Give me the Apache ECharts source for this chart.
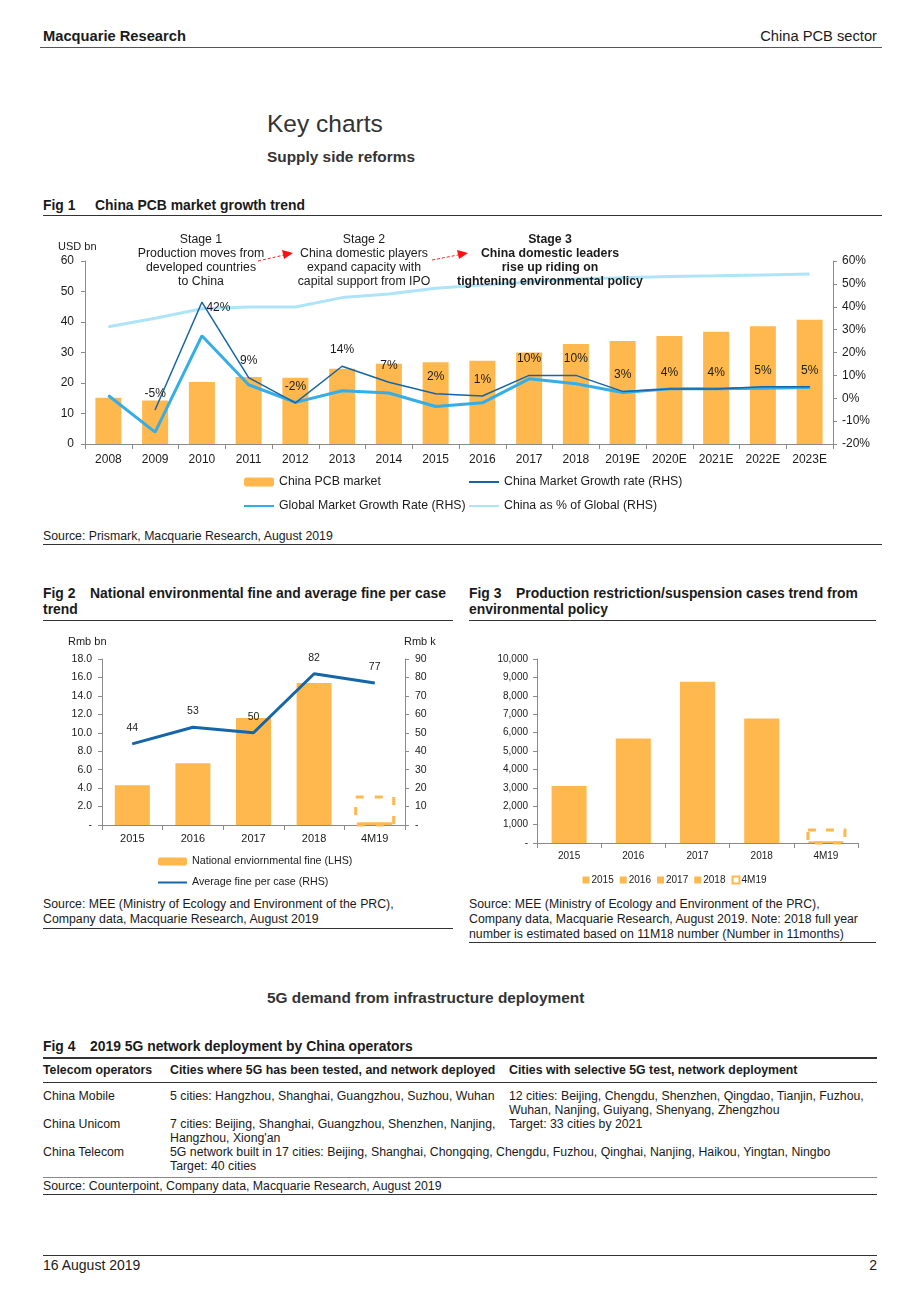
<!DOCTYPE html>
<html><head><meta charset="utf-8">
<script src="https://cdn.jsdelivr.net/npm/echarts@6/dist/echarts.min.js"></script>
<style>
html,body{margin:0;padding:0;background:#fff;}
body{width:920px;height:1302px;position:relative;font-family:"Liberation Sans",Arial,sans-serif;color:#1a1a1a;}
.t{position:absolute;white-space:nowrap;}
.b{font-weight:bold;}
.hl{position:absolute;background:#333;height:1px;}
.ch{position:absolute;}
.fig{display:inline-block;width:47px;}
.src{font-size:12.3px;line-height:15px;}
.tb{font-size:12.3px;line-height:14px;}
</style></head><body>
<div class="t b" style="left:43px;top:28px;font-size:14.7px;line-height:17px;">Macquarie Research</div>
<div class="t" style="right:43px;top:28px;font-size:14.7px;line-height:17px;">China PCB sector</div>
<div class="hl" style="left:40px;width:842px;top:47px;background:#555;"></div>

<div class="t" style="left:267px;top:109px;font-size:24.5px;line-height:29px;color:#333;">Key charts</div>
<div class="t b" style="left:267px;top:148px;font-size:15.4px;line-height:18px;color:#333;">Supply side reforms</div>

<div class="t b" style="left:43px;top:197px;font-size:13.9px;line-height:16px;"><span class="fig" style="width:52px;">Fig 1</span>China PCB market growth trend</div>
<div class="hl" style="left:43px;width:839px;top:215px;"></div>
<div id="c1" class="ch" style="left:40px;top:225px;width:850px;height:295px;"></div>
<div class="t src" style="left:43px;top:529px;">Source: Prismark, Macquarie Research, August 2019</div>
<div class="hl" style="left:43px;width:839px;top:544px;"></div>

<div class="t b" style="left:43px;top:585px;font-size:13.9px;line-height:16px;"><span class="fig">Fig 2</span>National environmental fine and average fine per case<br>trend</div>
<div class="hl" style="left:43px;width:410px;top:620px;"></div>
<div id="c2" class="ch" style="left:43px;top:630px;width:410px;height:265px;"></div>
<div class="t src" style="left:43px;top:897px;">Source: MEE (Ministry of Ecology and Environment of the PRC),<br>Company data, Macquarie Research, August 2019</div>
<div class="hl" style="left:43px;width:410px;top:928px;"></div>

<div class="t b" style="left:469px;top:585px;font-size:13.9px;line-height:16px;"><span class="fig">Fig 3</span>Production restriction/suspension cases trend from<br>environmental policy</div>
<div class="hl" style="left:469px;width:407px;top:620px;"></div>
<div id="c3" class="ch" style="left:469px;top:630px;width:411px;height:265px;"></div>
<div class="t src" style="left:469px;top:897px;">Source: MEE (Ministry of Ecology and Environment of the PRC),<br>Company data, Macquarie Research, August 2019. Note: 2018 full year<br>number is estimated based on 11M18 number (Number in 11months)</div>
<div class="hl" style="left:469px;width:407px;top:942px;"></div>

<div class="t b" style="left:267px;top:989px;font-size:15.4px;line-height:18px;color:#333;">5G demand from infrastructure deployment</div>

<div class="t b" style="left:43px;top:1038px;font-size:13.9px;line-height:16px;"><span class="fig">Fig 4</span>2019 5G network deployment by China operators</div>
<div class="hl" style="left:43px;width:834px;top:1057px;height:1.5px;"></div>
<div class="t b tb" style="left:43px;top:1063px;">Telecom operators</div>
<div class="t b tb" style="left:170px;top:1063px;">Cities where 5G has been tested, and network deployed</div>
<div class="t b tb" style="left:509px;top:1063px;">Cities with selective 5G test, network deployment</div>
<div class="hl" style="left:43px;width:834px;top:1082px;"></div>
<div class="t tb" style="left:43px;top:1089px;">China Mobile</div>
<div class="t tb" style="left:170px;top:1089px;">5 cities: Hangzhou, Shanghai, Guangzhou, Suzhou, Wuhan</div>
<div class="t tb" style="left:509px;top:1089px;">12 cities: Beijing, Chengdu, Shenzhen, Qingdao, Tianjin, Fuzhou,<br>Wuhan, Nanjing, Guiyang, Shenyang, Zhengzhou</div>
<div class="t tb" style="left:43px;top:1117px;">China Unicom</div>
<div class="t tb" style="left:170px;top:1117px;">7 cities: Beijing, Shanghai, Guangzhou, Shenzhen, Nanjing,<br>Hangzhou, Xiong'an</div>
<div class="t tb" style="left:509px;top:1117px;">Target: 33 cities by 2021</div>
<div class="t tb" style="left:43px;top:1145px;">China Telecom</div>
<div class="t tb" style="left:170px;top:1145px;">5G network built in 17 cities: Beijing, Shanghai, Chongqing, Chengdu, Fuzhou, Qinghai, Nanjing, Haikou, Yingtan, Ningbo<br>Target: 40 cities</div>
<div class="hl" style="left:43px;width:834px;top:1177px;background:#888;"></div>
<div class="t tb" style="left:43px;top:1179px;">Source: Counterpoint, Company data, Macquarie Research, August 2019</div>
<div class="hl" style="left:43px;width:834px;top:1194px;"></div>

<div class="hl" style="left:43px;width:834px;top:1255px;"></div>
<div class="t" style="left:43px;top:1257px;font-size:14px;line-height:16px;">16 August 2019</div>
<div class="t" style="right:43px;top:1257px;font-size:14px;line-height:16px;">2</div>

<script>
// ---------------- Data ----------------
var fig1Years = ['2008','2009','2010','2011','2012','2013','2014','2015','2016','2017','2018','2019E','2020E','2021E','2022E','2023E'];
var fig1ChinaPCB = [15.2, 14.3, 20.3, 22.0, 21.7, 24.7, 26.3, 26.8, 27.3, 30.0, 32.8, 33.8, 35.4, 36.8, 38.6, 40.7];
var fig1ChinaGrowth = [null, -5, 42, 9, -2, 14, 7, 2, 1, 10, 10, 3, 4, 4, 5, 5];
var fig1GlobalGrowth = [1.2, -14.8, 27.3, 5.9, -1.8, 3.3, 2.3, -3.6, -2.0, 8.5, 6.3, 2.5, 4.1, 4.1, 4.4, 4.7];
var fig1ChinaShare = [31.3, 35.0, 39.1, 39.9, 39.9, 44.0, 45.6, 48.1, 49.5, 50.8, 52.1, 52.7, 53.2, 53.5, 53.9, 54.3];

var fig2Cats = ['2015','2016','2017','2018','4M19'];
var fig2Fine = [4.3, 6.7, 11.6, 15.4, 0.3];
var fig2AvgFine = [44, 53, 50, 82, 77];

var fig3Cats = ['2015','2016','2017','2018','4M19'];
var fig3Cases = [3100, 5680, 8770, 6760, 90];

var FONT = '"Liberation Sans", Arial, sans-serif';
var ORANGE = '#FFB84D';
var DARKBLUE = '#1565A8';
var MIDBLUE = '#35ADE6';
var LIGHTBLUE = '#AEE4F8';
var AXIS = '#8a8a8a';
var TXT = '#1a1a1a';

function valAxis(fs, margin, fmt, extra){
  return Object.assign({
    type:'value',
    axisLine:{show:true,lineStyle:{color:AXIS,width:1}},
    axisTick:{show:true,inside:false,length:4,lineStyle:{color:AXIS}},
    splitLine:{show:false},
    axisLabel:{fontSize:fs,color:TXT,fontFamily:FONT,margin:margin,formatter:fmt}
  }, extra);
}
function catAxis(data, fs, margin){
  return {type:'category',data:data,axisLine:{lineStyle:{color:AXIS}},
    axisTick:{show:true,length:5,lineStyle:{color:AXIS}},
    axisLabel:{fontSize:fs,color:TXT,fontFamily:FONT,margin:margin,interval:0}};
}

// ---------------- Fig 1 ----------------
(function(){
  var ch = echarts.init(document.getElementById('c1'), null, {renderer:'canvas'});
  var maxIdx = 0;
  fig1ChinaGrowth.forEach(function(v,i){ if(v!==null && v>fig1ChinaGrowth[maxIdx]) maxIdx=i; });
  var growthData = fig1ChinaGrowth.map(function(v,i){
    if(i===maxIdx) return {value:v,label:{position:'right',distance:4,offset:[0,6]}};
    return v;
  });
  var annoStyle = {fontSize:12.3,fontFamily:FONT,fill:TXT,align:'center',lineHeight:14};
  var legText = {fontSize:12.3,color:TXT,fontFamily:FONT};
  ch.setOption({
    animation:false,
    textStyle:{fontFamily:FONT},
    grid:{left:45,right:57,top:36,bottom:76},
    xAxis:catAxis(fig1Years, 12, 10),
    yAxis:[
      valAxis(12, 11, null, {min:0,max:60,interval:10}),
      valAxis(12, 9, function(v){return v+'%';}, {min:-20,max:60,interval:10,position:'right'})
    ],
    legend:[
      {orient:'vertical',left:203,top:251,padding:0,itemGap:12,itemWidth:30,itemHeight:9,textStyle:legText,
       data:['China PCB market',{name:'Global Market Growth Rate (RHS)',itemStyle:{opacity:0}}]},
      {orient:'vertical',left:428,top:251,padding:0,itemGap:12,itemWidth:30,itemHeight:9,textStyle:legText,
       data:[{name:'China Market Growth rate (RHS)',itemStyle:{opacity:0}},{name:'China as % of Global (RHS)',itemStyle:{opacity:0}}]}
    ],
    series:[
      {name:'China PCB market',type:'bar',data:fig1ChinaPCB,barWidth:26,itemStyle:{color:ORANGE},z:1},
      {name:'China as % of Global (RHS)',type:'line',yAxisIndex:1,data:fig1ChinaShare,symbol:'circle',symbolSize:1,
       itemStyle:{color:LIGHTBLUE},lineStyle:{color:LIGHTBLUE,width:3},z:2},
      {name:'Global Market Growth Rate (RHS)',type:'line',yAxisIndex:1,data:fig1GlobalGrowth,symbol:'circle',symbolSize:1,
       itemStyle:{color:MIDBLUE},lineStyle:{color:MIDBLUE,width:3},z:3},
      {name:'China Market Growth rate (RHS)',type:'line',yAxisIndex:1,data:growthData,symbol:'circle',symbolSize:1,
       itemStyle:{color:DARKBLUE},lineStyle:{color:DARKBLUE,width:1.5},z:4,
       label:{show:true,position:'top',distance:10,fontSize:12,color:TXT,fontFamily:FONT,formatter:function(p){return p.value+'%';}}}
    ],
    graphic:[
      {type:'text',left:18,top:16,style:{text:'USD bn',fontSize:11,fontFamily:FONT,fill:TXT},z:10},
      {type:'text',x:161,y:8,style:Object.assign({text:'Stage 1\nProduction moves from\ndeveloped countries\nto China'},annoStyle),z:10},
      {type:'text',x:324,y:8,style:Object.assign({text:'Stage 2\nChina domestic players\nexpand capacity with\ncapital support from IPO'},annoStyle),z:10},
      {type:'text',x:510,y:8,style:Object.assign({text:'Stage 3\nChina domestic leaders\nrise up riding on\ntightening environmental policy',fontWeight:'bold'},annoStyle),z:10},
      {type:'line',shape:{x1:218,y1:36,x2:244,y2:30},style:{stroke:'#ff2020',lineWidth:1,lineDash:[3,2]},z:10},
      {type:'polygon',shape:{points:[[253,28],[242,25],[244,34]]},style:{fill:'#ff1010'},z:10},
      {type:'line',shape:{x1:392,y1:35,x2:418,y2:30},style:{stroke:'#ff2020',lineWidth:1,lineDash:[3,2]},z:10},
      {type:'polygon',shape:{points:[[428,28],[417,25],[419,34]]},style:{fill:'#ff1010'},z:10}
    ]
  });
})();

// ---------------- Fig 2 ----------------
(function(){
  var ch = echarts.init(document.getElementById('c2'), null, {renderer:'canvas'});
  ch.setOption({
    animation:false,
    textStyle:{fontFamily:FONT},
    grid:{left:59,right:48,top:29,bottom:70},
    xAxis:catAxis(fig2Cats, 11, 8),
    yAxis:[
      valAxis(10.5, 10, function(v){return v===0?'-':v.toFixed(1);}, {min:0,max:18,interval:2}),
      valAxis(10.5, 10, function(v){return v===0?'-':String(v);}, {min:0,max:90,interval:10,position:'right'})
    ],
    legend:{orient:'vertical',left:114,top:226,padding:0,itemGap:10,itemWidth:29,itemHeight:8,textStyle:{fontSize:10.7,color:TXT,fontFamily:FONT},
      data:['National enviornmental fine (LHS)',{name:'Average fine per case (RHS)',itemStyle:{opacity:0}}]},
    series:[
      {name:'National enviornmental fine (LHS)',type:'bar',data:fig2Fine,barWidth:35,itemStyle:{color:ORANGE}},
      {name:'Average fine per case (RHS)',type:'line',yAxisIndex:1,data:fig2AvgFine,symbol:'circle',symbolSize:1,
       itemStyle:{color:DARKBLUE},lineStyle:{color:DARKBLUE,width:3},
       label:{show:true,position:'top',distance:10,fontSize:10.5,color:TXT,fontFamily:FONT}}
    ],
    graphic:[
      {id:'lname',type:'text',left:25,top:6,style:{text:'Rmb bn',fontSize:11,fontFamily:FONT,fill:TXT}},
      {id:'rname',type:'text',left:361,top:6,style:{text:'Rmb k',fontSize:11,fontFamily:FONT,fill:TXT}}
    ]
  });
  var p = ch.convertToPixel({xAxisIndex:0,yAxisIndex:0},[fig2Cats.length-1,0]);
  ch.setOption({graphic:[{id:'sel',type:'rect',shape:{x:p[0]-19,y:p[1]-28,width:38,height:28},
    style:{fill:'none',stroke:ORANGE,lineWidth:3,lineDash:[8,11]},z:10}]});
})();

// ---------------- Fig 3 ----------------
(function(){
  var ch = echarts.init(document.getElementById('c3'), null, {renderer:'canvas'});
  var series = fig3Cats.map(function(c,i){
    return {name:c,type:'bar',stack:'all',barWidth:35,itemStyle:{color:ORANGE},
      data:fig3Cases.map(function(v,j){return j===i?v:null;})};
  });
  ch.setOption({
    animation:false,
    textStyle:{fontFamily:FONT},
    grid:{left:68,right:22,top:29,bottom:52},
    xAxis:catAxis(fig3Cats, 10, 8),
    yAxis:valAxis(10, 9, function(v){return v===0?'-':v.toLocaleString('en-US');}, {min:0,max:10000,interval:1000}),
    legend:{left:'center',top:240,itemGap:6,itemWidth:7,itemHeight:7,icon:'rect',textStyle:{fontSize:10,color:TXT,fontFamily:FONT,padding:[0,0,0,-3]},
      data:fig3Cats.map(function(c,i){
        return i===fig3Cats.length-1 ? {name:c,itemStyle:{color:'#fff',borderColor:ORANGE,borderWidth:2}} : c;
      })},
    series:series
  });
  var p = ch.convertToPixel({xAxisIndex:0,yAxisIndex:0},[fig3Cats.length-1,0]);
  ch.setOption({graphic:[{id:'sel',type:'rect',shape:{x:p[0]-18,y:p[1]-13,width:37,height:13},
    style:{fill:'none',stroke:ORANGE,lineWidth:3,lineDash:[8,10]},z:10}]});
})();
</script>
</body></html>
